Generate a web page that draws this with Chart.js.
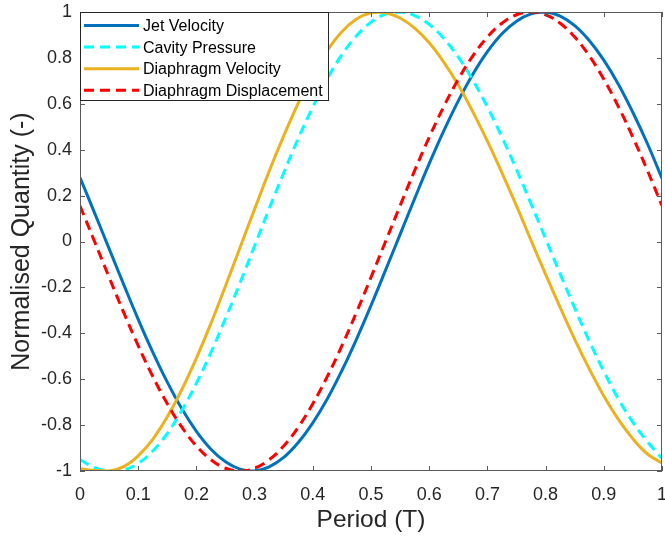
<!DOCTYPE html>
<html lang="en">
<head>
  <meta charset="UTF-8" />
  <title>Normalised Quantity vs Period</title>
  <script src="https://cdn.jsdelivr.net/npm/chart.js"></script>
  <style>
    body {
      margin: 0;
      background-color: #fff;
    }
    #chart-container {
      width: 665px;
      height: 540px;
    }
  </style>
</head>
<body>

  <div id="chart-container">
    <canvas id="periodChart" width="665" height="540"></canvas>
  </div>

  <script>
    // values
    const periods = [0, 0.025, 0.05, 0.075, 0.1, 0.125, 0.15, 0.175, 0.2, 0.225,
      0.25, 0.275, 0.3, 0.325, 0.35, 0.375, 0.4, 0.425, 0.45, 0.475,
      0.5, 0.525, 0.55, 0.575, 0.6, 0.625, 0.65, 0.675, 0.7, 0.725,
      0.75, 0.775, 0.8, 0.825, 0.85, 0.875, 0.9, 0.925, 0.95, 0.975, 1];

    const jetVelocity = [0.279, 0.125, -0.031, -0.187, -0.339, -0.482, -0.613, -0.729, -0.827, -0.905,
      -0.960, -0.992, -1.0, -0.982, -0.941, -0.876, -0.790, -0.685, -0.562, -0.426,
      -0.279, -0.125, 0.031, 0.187, 0.339, 0.482, 0.613, 0.729, 0.827, 0.905,
      0.960, 0.992, 1.0, 0.982, 0.941, 0.876, 0.790, 0.685, 0.562, 0.426, 0.275];

    const cavityPressure = [-0.95, -0.985, -0.998, -0.995, -0.967, -0.913, -0.836, -0.736, -0.617, -0.483,
      -0.335, -0.180, -0.019, 0.143, 0.299, 0.449, 0.586, 0.710, 0.814, 0.896,
      0.956, 0.991, 1.0, 0.984, 0.946, 0.885, 0.803, 0.703, 0.586, 0.455,
      0.313, 0.164, 0.012, -0.141, -0.290, -0.434, -0.566, -0.686, -0.788, -0.873, -0.945];

    const diaphragmVelocity = [-0.99, -0.998, -1.0, -0.981, -0.934, -0.862, -0.764, -0.645, -0.508, -0.357,
      -0.194, -0.026, 0.141, 0.306, 0.460, 0.603, 0.729, 0.833, 0.914, 0.969,
      0.997, 0.997, 0.974, 0.930, 0.866, 0.782, 0.682, 0.565, 0.437, 0.299,
      0.155, 0.005, -0.143, -0.287, -0.426, -0.555, -0.673, -0.775, -0.860, -0.926, -0.965];

    const diaphragmDisplacement = [0.156, 0, -0.156, -0.309, -0.454, -0.588, -0.707, -0.809, -0.891, -0.951,
      -0.988, -1.0, -0.988, -0.951, -0.891, -0.809, -0.707, -0.588, -0.454, -0.309,
      -0.156, 0, 0.156, 0.309, 0.454, 0.588, 0.707, 0.809, 0.891, 0.951,
      0.988, 1.0, 0.988, 0.951, 0.891, 0.809, 0.707, 0.588, 0.454, 0.309, 0.156];

    const seriesNames = ['Jet Velocity', 'Cavity Pressure', 'Diaphragm Velocity', 'Diaphragm Displacement'];
    const seriesColors = ['#0072BD', '#00FFFF', '#EDB120', '#FF0000'];
    const seriesDashes = [[], [10, 6], [], [10, 6]];

    const xTitle = 'Period (T)';
    const yTitle = 'Normalised Quantity (-)';

    const FONT = "'Liberation Sans', Arial, sans-serif";
    const AXIS_COLOR = '#262626';

    function toPoints(values) {
      return periods.map((p, i) => ({ x: p, y: values[i] }));
    }

    const allSeries = [jetVelocity, cavityPressure, diaphragmVelocity, diaphragmDisplacement];
    const datasets = allSeries.map((vals, i) => ({
      label: seriesNames[i],
      data: toPoints(vals),
      borderColor: seriesColors[i],
      borderWidth: 3,
      borderDash: seriesDashes[i],
      pointRadius: 0,
      tension: 0.4,
      fill: false,
      order: allSeries.length - i   // later series on top, like matlab
    }));

    // no extra room for half tick labels, the plot box is fixed
    function noPad(s) {
      s.paddingLeft = 0;
      s.paddingRight = 0;
      s.paddingTop = 0;
      s.paddingBottom = 0;
    }

    // box round the axes plus inward tick marks on all four sides
    const boxPlugin = {
      id: 'boxPlugin',
      afterDatasetsDraw(chart) {
        const { ctx, chartArea: a, scales } = chart;
        ctx.save();
        ctx.strokeStyle = '#5a5a5a';
        ctx.lineWidth = 1;
        ctx.strokeRect(a.left + 0.5, a.top + 0.5, a.right - a.left - 1, a.bottom - a.top - 1);
        const len = 5;
        ctx.beginPath();
        scales.x.ticks.forEach(t => {
          const px = Math.round(scales.x.getPixelForValue(t.value)) + 0.5;
          ctx.moveTo(px, a.bottom); ctx.lineTo(px, a.bottom - len);
          ctx.moveTo(px, a.top); ctx.lineTo(px, a.top + len);
        });
        scales.y.ticks.forEach(t => {
          const py = Math.round(scales.y.getPixelForValue(t.value)) + 0.5;
          ctx.moveTo(a.left, py); ctx.lineTo(a.left + len, py);
          ctx.moveTo(a.right, py); ctx.lineTo(a.right - len, py);
        });
        ctx.stroke();
        ctx.restore();
      }
    };

    // matlab style legend in the top left corner
    const legendPlugin = {
      id: 'boxLegend',
      afterDraw(chart) {
        const { ctx, chartArea: a } = chart;
        const x0 = a.left, y0 = a.top;
        const w = 249, h = 89, rowH = 21.6;
        ctx.save();
        ctx.fillStyle = '#fff';
        ctx.fillRect(x0, y0, w, h);
        ctx.strokeStyle = '#262626';
        ctx.lineWidth = 1;
        ctx.strokeRect(x0 + 0.5, y0 + 0.5, w - 1, h - 1);
        ctx.font = '16px ' + FONT;
        ctx.textBaseline = 'middle';
        ctx.textAlign = 'left';
        chart.data.datasets.forEach((ds, i) => {
          const y = y0 + 13.5 + i * rowH;
          ctx.strokeStyle = ds.borderColor;
          ctx.lineWidth = 3;
          ctx.setLineDash(ds.borderDash);
          ctx.beginPath();
          ctx.moveTo(x0 + 4, y);
          ctx.lineTo(x0 + 59, y);
          ctx.stroke();
          ctx.setLineDash([]);
          ctx.fillStyle = '#000';
          ctx.fillText(ds.label, x0 + 63, y + 1);
        });
        ctx.restore();
      }
    };

    const ctx = document.getElementById('periodChart').getContext('2d');
    const periodChart = new Chart(ctx, {
      type: 'line',
      data: { datasets },
      options: {
        responsive: false,
        animation: false,
        layout: { padding: { top: 12, right: 3, left: 0, bottom: 0 } },
        plugins: {
          legend: { display: false },
          tooltip: { enabled: false }
        },
        scales: {
          x: {
            type: 'linear',
            min: 0,
            max: 1,
            afterFit: s => { s.height = 69; noPad(s); },
            grid: { display: false, drawTicks: false },
            border: { display: false },
            ticks: {
              stepSize: 0.1,
              padding: 13,
              color: AXIS_COLOR,
              font: { family: FONT, size: 18 },
              maxRotation: 0,
              callback: v => String(Number(v.toFixed(1)))
            },
            title: {
              display: true,
              text: xTitle,
              color: AXIS_COLOR,
              font: { family: FONT, size: 24.5 },
              padding: { top: 0, bottom: 5 }
            }
          },
          y: {
            min: -1,
            max: 1,
            afterFit: s => { s.width = 80; noPad(s); },
            grid: { display: false, drawTicks: false },
            border: { display: false },
            ticks: {
              stepSize: 0.2,
              padding: 8,
              color: AXIS_COLOR,
              font: { family: FONT, size: 18 },
              callback: v => String(Number(v.toFixed(1)))
            },
            title: {
              display: true,
              text: yTitle,
              color: AXIS_COLOR,
              font: { family: FONT, size: 25 },
              padding: { top: 7, bottom: 0 }
            }
          }
        }
      },
      plugins: [boxPlugin, legendPlugin]
    });
  </script>
</body>
</html>
